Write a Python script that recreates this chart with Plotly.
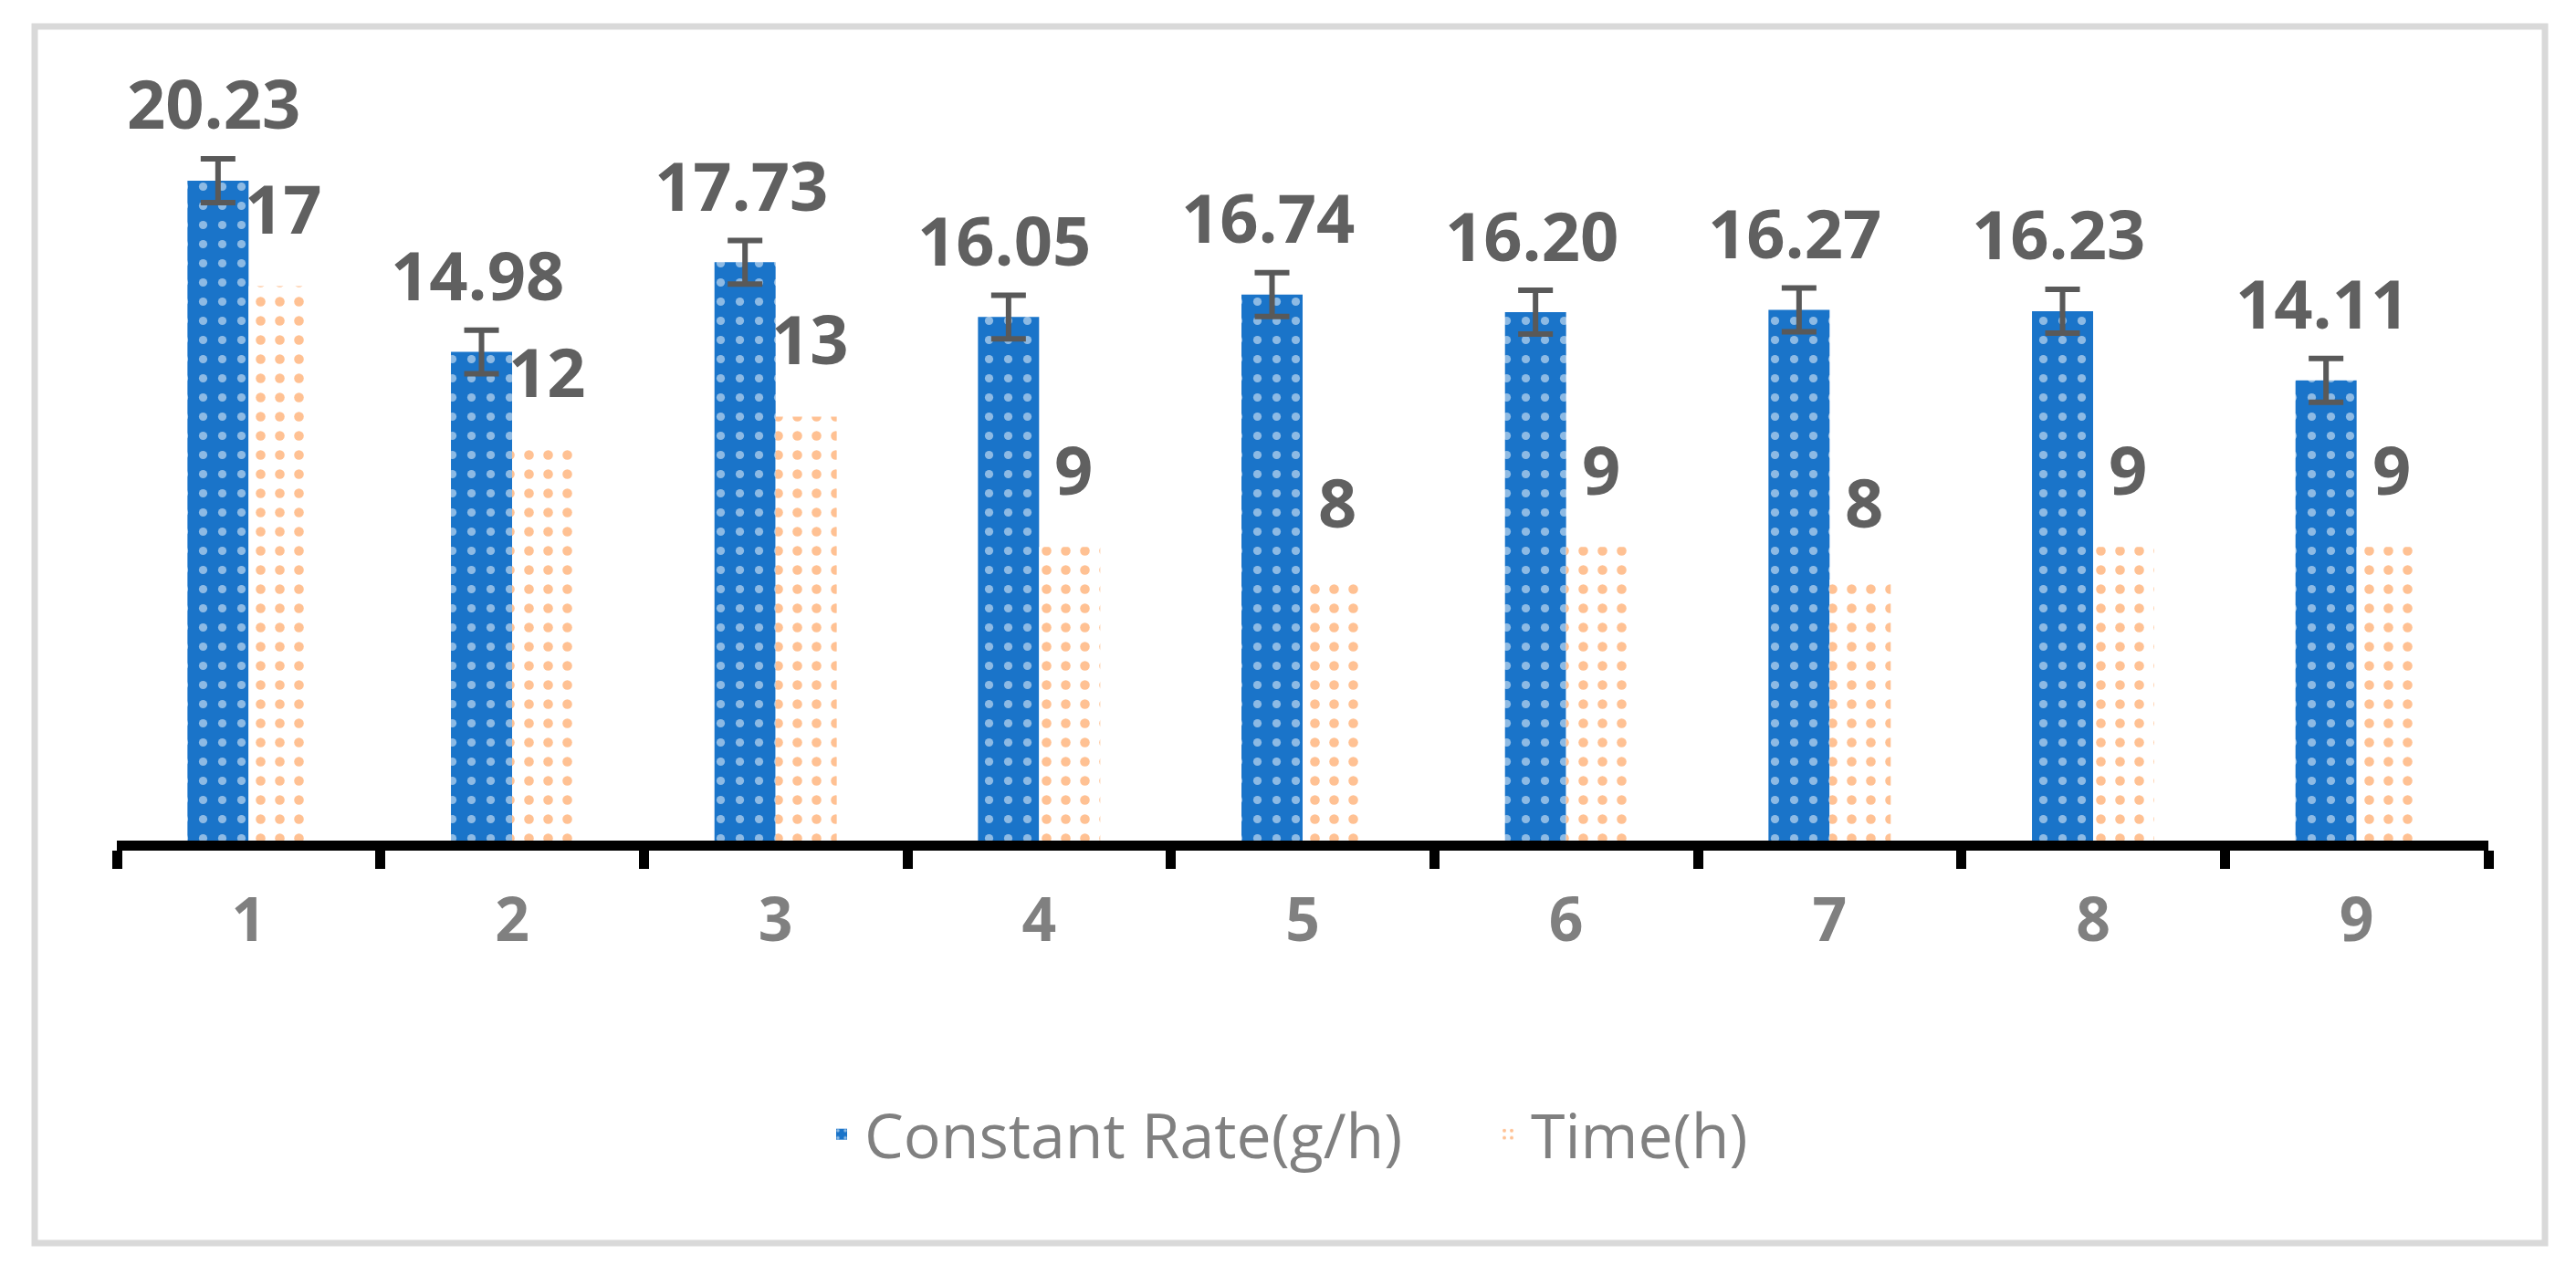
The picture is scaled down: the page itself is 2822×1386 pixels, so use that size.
import plotly.graph_objects as go

categories = ["1", "2", "3", "4", "5", "6", "7", "8", "9"]
constant_rate = [20.23, 14.98, 17.73, 16.05, 16.74, 16.20, 16.27, 16.23, 14.11]
rate_error = [0.67, 0.67, 0.67, 0.67, 0.67, 0.67, 0.67, 0.67, 0.67]
time_h = [17, 12, 13, 9, 8, 9, 8, 9, 9]

BLUE = "#1A74C9"
ORANGE = "#FF8427"
LABEL = "#606060"
TICK = "#808080"
FONT = "Open Sans"

W, H = 2822, 1386
ML, MR, MT, MB = 120, 104, 60, 473
PW, PH = W - ML - MR, H - MT - MB

fig = go.Figure()
fig.add_trace(go.Bar(
    name="Constant Rate(g/h)", x=categories, y=constant_rate,
    marker=dict(color=BLUE, line=dict(width=0),
                pattern=dict(shape=".", bgcolor=BLUE, fgcolor="white", size=21, solidity=0.15)),
    error_y=dict(type="data", array=rate_error, visible=True, color="#595959", thickness=6, width=19),
))
fig.add_trace(go.Bar(
    name="Time(h)", x=categories, y=time_h,
    marker=dict(color=ORANGE, line=dict(width=0),
                pattern=dict(shape=".", bgcolor="white", fgcolor=ORANGE, size=21, solidity=0.2)),
))

annotations = []
for i, v in enumerate(constant_rate):
    annotations.append(dict(x=i, y=v, xref="x", yref="y", text=f"{v:.2f}", showarrow=False,
                            xshift=-38, yshift=85, yanchor="middle",
                            font=dict(family=FONT, size=74, color=LABEL, weight="bold")))
for i, v in enumerate(time_h):
    annotations.append(dict(x=i, y=v, xref="x", yref="y", text=f"{v}", showarrow=False,
                            xshift=38, yshift=86, yanchor="middle",
                            font=dict(family=FONT, size=74, color=LABEL, weight="bold")))

border = dict(type="rect", xref="paper", yref="paper",
              x0=(30 - ML) / PW, x1=(2780 - ML) / PW,
              y0=(H - MB - 1354) / PH, y1=(H - MB - 21) / PH,
              line=dict(color="#D9D9D9", width=7), fillcolor="rgba(0,0,0,0)", layer="below")

fig.update_layout(
    width=W, height=H,
    margin=dict(l=ML, r=MR, t=MT, b=MB),
    paper_bgcolor="white", plot_bgcolor="white",
    barmode="group", bargap=0.536, bargroupgap=0,
    showlegend=True,
    legend=dict(orientation="h", x=0.5 + 200 / PW, xanchor="center", y=(H - MB - 1235) / PH, yanchor="middle",
                font=dict(family=FONT, size=68, color=TICK), itemwidth=40,
                entrywidth=675, entrywidthmode="pixels"),
    annotations=annotations,
    shapes=[border],
    xaxis=dict(type="category", range=[-0.5, len(categories) - 0.5],
               showline=True, linecolor="black", linewidth=11,
               ticks="outside", tickson="boundaries", ticklen=20, tickwidth=11, tickcolor="black",
               tickfont=dict(family=FONT, size=66, color=TICK, weight="bold"),
               ticklabelstandoff=20, showgrid=False, zeroline=False),
    yaxis=dict(visible=False, range=[0, PH / 35.74], showgrid=False, zeroline=False),
)

fig.write_html("out.html")
